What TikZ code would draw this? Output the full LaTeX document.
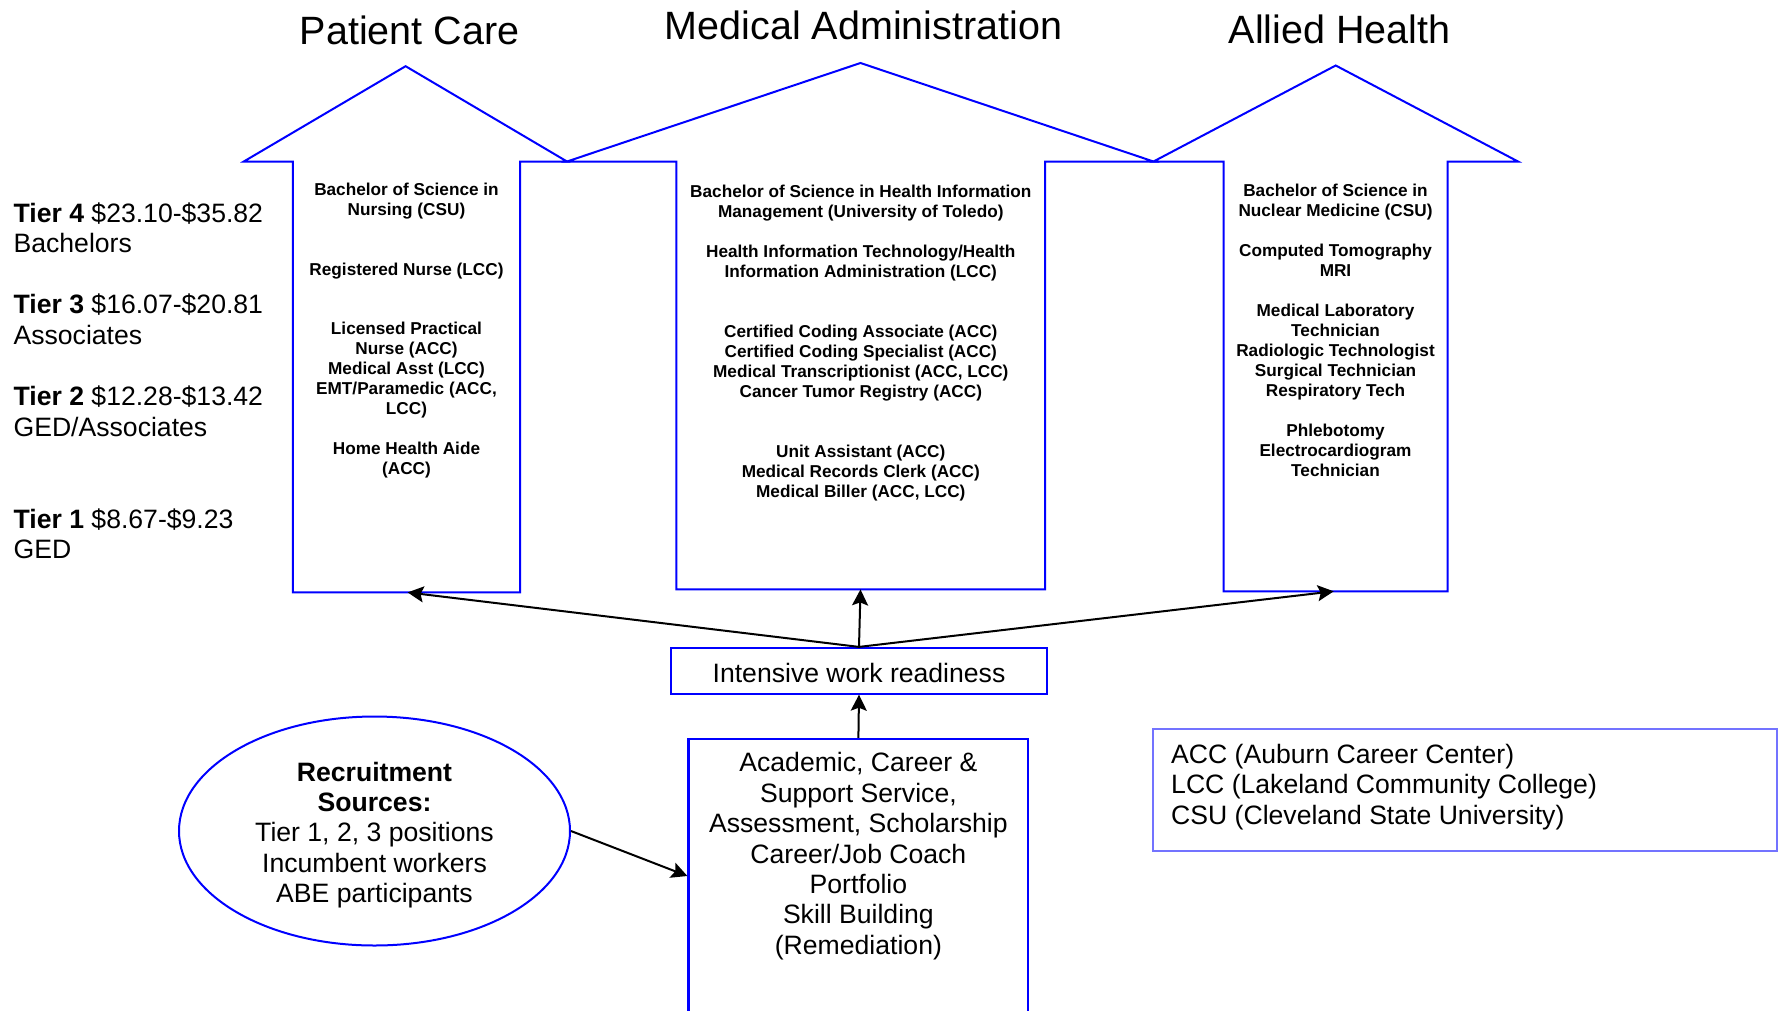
\documentclass[tikz,border=0pt]{standalone}
\usepackage{fontspec}
\setmainfont{Liberation Sans}
\usetikzlibrary{arrows.meta, shapes.geometric, positioning}
\definecolor{pathblue}{HTML}{0000FF}
\definecolor{keyblue}{HTML}{7373FF}

\begin{document}
\begin{tikzpicture}[x=1pt, y=-1pt,
    pathway/.style={draw=pathblue, line width=2pt, line join=miter},
    boxed/.style={draw=pathblue, line width=2.2pt, inner sep=0pt},
    feed/.style={-{Stealth[length=16pt, width=16pt, inset=3pt]}, line width=2pt, black},
    heading/.style={anchor=base, inner sep=0pt, font=\fontsize{39.5}{45}\selectfont},
    tier/.style={anchor=base west, align=left, inner sep=0pt, font=\fontsize{26.6}{30.6}\selectfont},
    jobs/.style={anchor=base, align=center, inner sep=0pt, font=\fontsize{17.2}{20}\selectfont\bfseries},
    plain/.style={align=center, inner sep=0pt, font=\fontsize{26.6}{30.4}\selectfont}]
  \useasboundingbox (0,0) rectangle (1783,1010);

  % Titles
  \node[heading] (pctitle) at (409.5,44.8) {Patient Care};
  \node[heading] (matitle) at (863.5,39.4) {Medical Administration};
  \node[heading] (ahtitle) at (1339.7,43) {Allied Health};

  % Career pathway arrows
  \draw[pathway] (243.8,161.5) -- (405.6,66.2) -- (567,161.5) -- (520,161.5) -- (520,592.4)
    -- (292.8,592.4) -- (292.8,161.5) -- cycle;
  \draw[pathway] (567,161.5) -- (860.5,63) -- (1153.5,161.5) -- (1045,161.5) -- (1045,589.4)
    -- (676.4,589.4) -- (676.4,161.5) -- cycle;
  \draw[pathway] (1153.5,161.5) -- (1335.7,65.5) -- (1518,161.5) -- (1447.5,161.5) -- (1447.5,591.3)
    -- (1223.5,591.3) -- (1223.5,161.5) -- cycle;
  \coordinate (pcfoot) at (407.6,592.4);
  \coordinate (mafoot) at (860.5,589.4);
  \coordinate (ahfoot) at (1333.7,591.3);

  % Tiers (anchored on the last line)
  \node[tier] (tierfour) at (13.4,252.6) {\textbf{Tier 4} \$23.10-\$35.82\\Bachelors};
  \node[tier] (tierthree) at (13.4,344.4) {\textbf{Tier 3} \$16.07-\$20.81\\Associates};
  \node[tier] (tiertwo) at (13.4,436.3) {\textbf{Tier 2} \$12.28-\$13.42\\GED/Associates};
  \node[tier] (tierone) at (13.4,558.7) {\textbf{Tier 1} \$8.67-\$9.23\\GED};

  % Programs inside the arrows
  \node[jobs] (pcjobs) at (406.5,474.5) {Bachelor of Science in\\Nursing (CSU)\\[40pt]
    Registered Nurse (LCC)\\[39pt]Licensed Practical\\Nurse (ACC)\\Medical Asst (LCC)\\
    EMT/Paramedic (ACC,\\LCC)\\[20pt]Home Health Aide\\(ACC)};
  \node[jobs] (majobs) at (860.8,497.1) {Bachelor of Science in Health Information\\
    Management (University of Toledo)\\[20pt]Health Information Technology/Health\\
    Information Administration (LCC)\\[40pt]Certified Coding Associate (ACC)\\
    Certified Coding Specialist (ACC)\\Medical Transcriptionist (ACC, LCC)\\
    Cancer Tumor Registry (ACC)\\[40pt]Unit Assistant (ACC)\\Medical Records Clerk (ACC)\\
    Medical Biller (ACC, LCC)};
  \node[jobs] (ahjobs) at (1335.5,476) {Bachelor of Science in\\Nuclear Medicine (CSU)\\[20pt]
    Computed Tomography\\MRI\\[20pt]Medical Laboratory\\Technician\\Radiologic Technologist\\
    Surgical Technician\\Respiratory Tech\\[20pt]Phlebotomy\\Electrocardiogram\\Technician};

  % Training path
  \node[boxed, plain, minimum width=376pt, minimum height=45.6pt, text height=24pt] (ready)
    at (859,670.8) {Intensive work readiness};
  \node[boxed, minimum width=339.8pt, minimum height=274pt] (acad) at (858.4,876) {};
  \node[plain, anchor=base] (acadtext) at (858.4,954.3) {Academic, Career \&\\Support Service,\\
    Assessment, Scholarship\\Career/Job Coach\\Portfolio\\Skill Building\\(Remediation)};
  \node[draw=pathblue, line width=2pt, ellipse, minimum width=391pt, minimum height=229pt]
    (recruit) at (374.5,831) {};
  \node[plain, anchor=base] (recruittext) at (374.5,902.7) {\textbf{Recruitment}\\\textbf{Sources:}\\
    Tier 1, 2, 3 positions\\Incumbent workers\\ABE participants};

  \draw[feed] (recruit.east) -- (acad.west);
  \draw[feed] (acad.north) -- (ready.south);
  \draw[feed] (ready.north) -- (pcfoot);
  \draw[feed] (ready.north) -- (mafoot);
  \draw[feed] (ready.north) -- (ahfoot);

  % Key
  \node[draw=keyblue, line width=2.5pt, minimum width=624pt, minimum height=122pt, inner sep=0pt]
    (legend) at (1465.2,790) {};
  \node[plain, align=left, anchor=base west] (legendtext) at (1171,824) {ACC (Auburn Career Center)\\
    LCC (Lakeland Community College)\\CSU (Cleveland State University)};
\end{tikzpicture}
\end{document}
